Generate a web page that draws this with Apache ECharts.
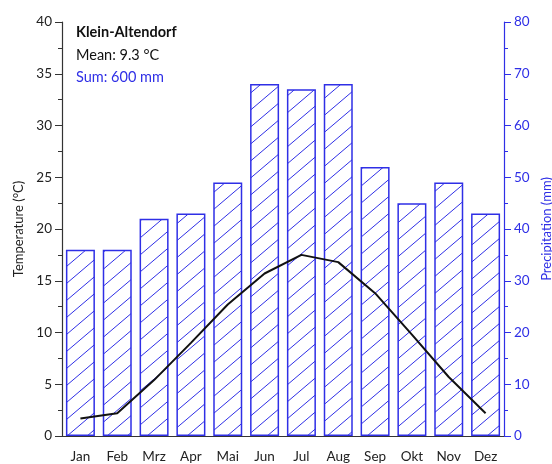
<!DOCTYPE html>
<html>
<head>
<meta charset="utf-8">
<script src="https://cdn.jsdelivr.net/npm/echarts@6/dist/echarts.min.js"></script>
<style>
  html, body { margin: 0; padding: 0; background: #fff; }
  #chart { width: 552px; height: 464px; }
</style>
</head>
<body>
<div id="chart"></div>
<script>
const months = ['Jan', 'Feb', 'Mrz', 'Apr', 'Mai', 'Jun', 'Jul', 'Aug', 'Sep', 'Okt', 'Nov', 'Dez']
const temperature = [1.7, 2.2, 5.4, 9.0, 12.7, 15.7, 17.5, 16.8, 13.8, 9.8, 5.7, 2.2]
const precipitation = [36, 36, 42, 43, 49, 68, 67, 68, 52, 45, 49, 43]
const stationName = 'Klein-Altendorf'
const meanText = 'Mean: 9.3 °C'
const sumText = 'Sum: 600 mm'

const BLUE = '#2f2fe6'
const FONT = 'Lato, "Open Sans", sans-serif'

// diagonal hatch tile for the bars
function hatchPattern() {
  const w = 20, h = 17
  const c = document.createElement('canvas')
  c.width = w
  c.height = h
  const ctx = c.getContext('2d')
  ctx.strokeStyle = BLUE
  ctx.lineWidth = 1
  ctx.beginPath()
  for (const off of [-h, 0, h]) {
    ctx.moveTo(-1, h + off + h / w)
    ctx.lineTo(w + 1, off - h / w)
  }
  ctx.stroke()
  return c
}

const chart = echarts.init(document.getElementById('chart'))

const titleStyle = (weight, color) => ({ fontSize: 14.5, fontWeight: weight, color, fontFamily: FONT })

const option = {
  animation: false,
  textStyle: { fontFamily: FONT },
  title: [
    { text: stationName, left: 76, top: 25, padding: 0, textStyle: titleStyle('bold', '#111') },
    { text: meanText, left: 76, top: 48, padding: 0, textStyle: titleStyle('normal', '#111') },
    { text: sumText, left: 76, top: 70, padding: 0, textStyle: titleStyle('normal', BLUE) },
  ],
  grid: { left: 62, right: 48, top: 22, bottom: 28, outerBoundsMode: 'none' },
  xAxis: {
    type: 'category',
    data: months,
    axisLine: { lineStyle: { color: '#333', width: 1.2 } },
    axisTick: { alignWithLabel: true, length: 5, lineStyle: { color: '#333' } },
    axisLabel: { fontSize: 13.5, color: '#222', margin: 14, fontFamily: FONT },
  },
  yAxis: [
    {
      type: 'value',
      min: 0,
      max: 40,
      interval: 5,
      name: 'Temperature (°C)',
      nameLocation: 'middle',
      nameRotate: 90,
      nameGap: 36,
      nameTextStyle: { fontSize: 13, color: '#222', fontFamily: FONT },
      axisLine: { show: true, lineStyle: { color: '#333', width: 1.2 } },
      axisTick: { show: true, length: 7, lineStyle: { color: '#333' } },
      minorTick: { show: true, splitNumber: 2, length: 4, lineStyle: { color: '#333' } },
      splitLine: { show: false },
      axisLabel: { fontSize: 13.5, color: '#222', margin: 10, fontFamily: FONT },
    },
    {
      type: 'value',
      min: 0,
      max: 80,
      interval: 10,
      position: 'right',
      name: 'Precipitation (mm)',
      nameLocation: 'middle',
      nameRotate: 90,
      nameGap: 35,
      nameTextStyle: { fontSize: 13, color: BLUE, fontFamily: FONT },
      axisLine: { show: true, lineStyle: { color: BLUE, width: 1.2 } },
      axisTick: { show: true, length: 7, lineStyle: { color: BLUE } },
      minorTick: { show: true, splitNumber: 2, length: 4, lineStyle: { color: BLUE } },
      splitLine: { show: false },
      axisLabel: { fontSize: 13.5, color: BLUE, margin: 10, fontFamily: FONT },
    },
  ],
  series: [
    {
      type: 'bar',
      name: 'Precipitation',
      yAxisIndex: 1,
      data: precipitation,
      barWidth: 29,
      itemStyle: {
        color: { image: hatchPattern(), repeat: 'repeat' },
        borderColor: BLUE,
        borderWidth: 1.5,
      },
      z: 1,
    },
    {
      type: 'line',
      name: 'Temperature',
      yAxisIndex: 0,
      data: temperature,
      showSymbol: false,
      symbol: 'none',
      lineStyle: { color: '#111', width: 2 },
      z: 3,
    },
  ],
}

chart.setOption(option)
</script>
</body>
</html>
